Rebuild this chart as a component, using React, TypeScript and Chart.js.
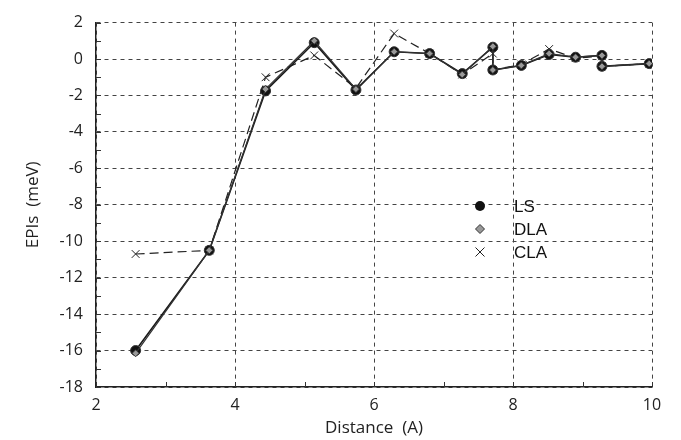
import React, { useEffect, useRef } from "react";
import { Chart, registerables } from "chart.js";

Chart.register(...registerables);

const distance = [2.57, 3.63, 4.44, 5.14, 5.74, 6.29, 6.8, 7.27, 7.71, 7.71, 8.12, 8.52, 8.9, 9.28, 9.28, 9.96];
const lsValues = [-16.0, -10.5, -1.75, 0.9, -1.7, 0.4, 0.3, -0.8, 0.65, -0.6, -0.35, 0.25, 0.1, 0.2, -0.4, -0.25];
const dlaValues = [-16.15, -10.5, -1.65, 1.0, -1.65, 0.4, 0.3, -0.85, 0.7, -0.6, -0.35, 0.3, 0.1, 0.2, -0.4, -0.25];
const claValues = [-10.7, -10.5, -1.0, 0.2, -1.6, 1.4, 0.3, -0.85, 0.3, -0.6, -0.3, 0.55, 0.05, 0.15, -0.4, -0.25];
const seriesNames = ["LS", "DLA", "CLA"];
const xTitle = "Distance  (A)";
const yTitle = "EPIs  (meV)";
const xMin = 2, xMax = 10, yMin = -18, yMax = 2;

const toPoints = (ys: number[]) => ys.map((y, i) => ({ x: distance[i], y }));

const minorTicks = {
  id: "minorTicks",
  afterDraw(chart: any) {
    const { ctx, chartArea, scales } = chart;
    ctx.save();
    ctx.strokeStyle = "#333";
    ctx.lineWidth = 1;
    ctx.beginPath();
    for (let v = xMin; v <= xMax; v++) {
      const px = Math.round(scales.x.getPixelForValue(v)) + 0.5;
      ctx.moveTo(px, chartArea.bottom);
      ctx.lineTo(px, chartArea.bottom - 5);
    }
    for (let v = yMin; v <= yMax; v++) {
      const py = Math.round(scales.y.getPixelForValue(v)) + 0.5;
      ctx.moveTo(chartArea.left, py);
      ctx.lineTo(chartArea.left + 5, py);
    }
    ctx.stroke();
    ctx.restore();
  },
};

const customLegend = {
  id: "customLegend",
  afterDraw(chart: any) {
    const { ctx } = chart;
    const mx = 480, tx = 514;
    const ys = [206, 229, 252];
    ctx.save();
    ctx.fillStyle = "#111";
    ctx.beginPath();
    ctx.arc(mx, ys[0], 5, 0, Math.PI * 2);
    ctx.fill();
    ctx.fillStyle = "#999";
    ctx.strokeStyle = "#333";
    ctx.lineWidth = 1;
    ctx.beginPath();
    ctx.moveTo(mx, ys[1] - 4.5);
    ctx.lineTo(mx + 4.5, ys[1]);
    ctx.lineTo(mx, ys[1] + 4.5);
    ctx.lineTo(mx - 4.5, ys[1]);
    ctx.closePath();
    ctx.fill();
    ctx.stroke();
    ctx.strokeStyle = "#222";
    ctx.beginPath();
    ctx.moveTo(mx - 4.5, ys[2] - 4.5);
    ctx.lineTo(mx + 4.5, ys[2] + 4.5);
    ctx.moveTo(mx + 4.5, ys[2] - 4.5);
    ctx.lineTo(mx - 4.5, ys[2] + 4.5);
    ctx.stroke();
    ctx.fillStyle = "#111";
    ctx.font = '17px "Liberation Sans"';
    ctx.textBaseline = "middle";
    ctx.textAlign = "left";
    seriesNames.forEach((n, i) => ctx.fillText(n, tx, ys[i] + 1));
    ctx.restore();
  },
};

export default function App() {
  const ref = useRef<HTMLCanvasElement>(null);
  useEffect(() => {
    if (!ref.current) return;
    const tickFont = { family: '"Open Sans"', size: 16 };
    const titleFont = { family: '"Open Sans"', size: 17 };
    const chart = new Chart(ref.current, {
      type: "line",
      data: {
        datasets: [
          {
            label: seriesNames[0],
            data: toPoints(lsValues),
            borderColor: "#1a1a1a",
            borderWidth: 1.6,
            backgroundColor: "#111",
            pointStyle: "circle",
            pointRadius: 5,
            pointBorderColor: "#333",
            pointBorderWidth: 1,
            order: 1,
          },
          {
            label: seriesNames[1],
            data: toPoints(dlaValues),
            borderColor: "#333",
            borderWidth: 1.2,
            backgroundColor: "#999",
            pointStyle: "rectRot",
            pointRadius: 3.5,
            pointBorderColor: "#333",
            pointBorderWidth: 1,
            order: 0,
          },
          {
            label: seriesNames[2],
            data: toPoints(claValues),
            borderColor: "#222",
            borderWidth: 1.2,
            borderDash: [9, 5],
            backgroundColor: "transparent",
            pointStyle: "crossRot",
            pointRadius: 5.5,
            pointBorderColor: "#222",
            pointBorderWidth: 1,
            order: 2,
          },
        ],
      },
      options: {
        animation: false,
        responsive: true,
        maintainAspectRatio: false,
        layout: { padding: { left: 0, top: 17, right: 29, bottom: 0 } },
        plugins: { legend: { display: false }, tooltip: { enabled: false } },
        scales: {
          x: {
            type: "linear",
            min: xMin,
            max: xMax,
            afterFit: (s: any) => { s.height = 53; },
            ticks: {
              stepSize: 1,
              color: "#222",
              font: tickFont,
              padding: 9,
              maxRotation: 0,
              callback: (v: any) => (Number(v) % 2 === 0 ? String(v) : ""),
            },
            grid: {
              drawTicks: false,
              color: (c: any) => (c.tick && Math.round(c.tick.value) % 2 === 0 ? "#444" : "rgba(0,0,0,0)"),
              lineWidth: 1,
            },
            border: { display: true, color: "#222", width: 1.5, dash: [4, 4] },
            title: { display: true, text: xTitle, color: "#222", font: titleFont, padding: { top: 0, bottom: 2 } },
          },
          y: {
            type: "linear",
            min: yMin,
            max: yMax,
            afterFit: (s: any) => { s.width = 96; },
            ticks: {
              stepSize: 1,
              color: "#222",
              font: tickFont,
              padding: 13,
              callback: (v: any) => (Number(v) % 2 === 0 ? String(v) : ""),
            },
            grid: {
              drawTicks: false,
              color: (c: any) => (c.tick && Math.round(c.tick.value) % 2 === 0 ? "#444" : "rgba(0,0,0,0)"),
              lineWidth: 1,
            },
            border: { display: true, color: "#222", width: 1.5, dash: [4, 4] },
            title: { display: true, text: yTitle, color: "#222", font: titleFont, padding: { top: 23, bottom: 0 } },
          },
        },
      },
      plugins: [minorTicks, customLegend],
    });
    return () => chart.destroy();
  }, []);
  return (
    <div style={{ position: "fixed", left: 0, top: 0, width: 681, height: 440, background: "#fff" }}>
      <canvas ref={ref} />
    </div>
  );
}
